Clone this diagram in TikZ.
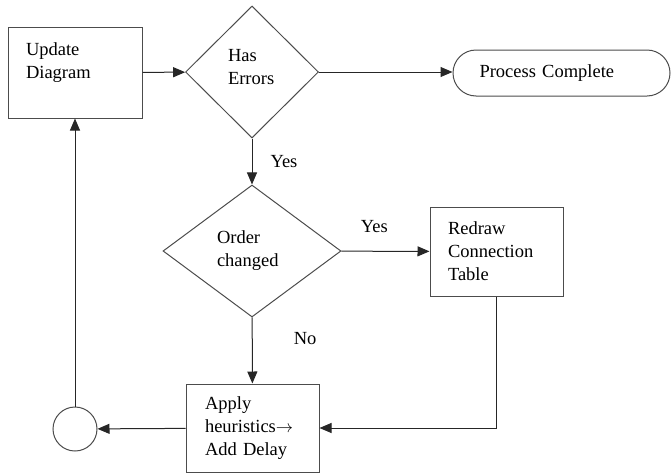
\documentclass[tikz,border=0pt]{standalone}
\usepackage{fontspec}
\setmainfont{Liberation Serif}
\usetikzlibrary{shapes.geometric,shapes.misc,arrows.meta}

\begin{document}
\begin{tikzpicture}[x=1pt,y=-1pt,
    every node/.style={font=\fontsize{18.5}{23}\selectfont},
    box/.style={draw=black!70,line width=1pt,rectangle,align=left,inner sep=0pt},
    decision/.style={draw=black!70,line width=1pt,diamond,align=left,inner sep=0pt},
    arr/.style={line width=1pt,draw=black!85,-{Triangle[length=12pt,width=10pt]}},
    lbl/.style={inner sep=0pt}]
    \useasboundingbox (0,0) rectangle (672,474);

    % Boxes
    \node[box,minimum width=134pt,minimum height=91pt,text width=98pt] (upd) at (75,72.5) {Update\\Diagram\\\mbox{}};
    \node[box,minimum width=133pt,minimum height=89pt,text width=97pt] (red) at (496.5,251.5) {Redraw\\Connection\\Table};
    \node[box,minimum width=133pt,minimum height=88pt,text width=95pt] (app) at (252.5,428) {Apply\\heuristics$\rightarrow$\\Add Delay};

    % Decisions
    \node[decision,minimum width=133pt,minimum height=132pt,text width=48pt] (has) at (252,72) {Has\\Errors\\[-12pt]\mbox{}};
    \node[decision,minimum width=178pt,minimum height=132pt,text width=70pt] (ord) at (252,251) {Order\\changed};

    % End and connector
    \node[draw=black!70,line width=1pt,rounded rectangle,minimum width=217pt,minimum height=46pt,
          text width=164pt,align=left,inner sep=0pt] (done) at (561.5,73) {Process Complete};
    \node[draw=black!70,line width=1pt,circle,minimum size=44pt,inner sep=0pt] (circ) at (75,429) {};

    % Arrows
    \draw[arr] (upd) -- (has);
    \draw[arr] (has.east) -- (has.east -| done.west);
    \draw[arr] (has) -- node[lbl,right=18pt] {Yes} (ord);
    \draw[arr] (ord) -- node[lbl,above=18pt,xshift=-11pt] {Yes} (red);
    \draw[arr] (ord) -- node[lbl,right=41pt,yshift=12pt] {No} (app);
    \draw[arr] (red) |- (app);
    \draw[arr] (app) -- (circ);
    \draw[arr] (circ) -- (upd);
\end{tikzpicture}
\end{document}
